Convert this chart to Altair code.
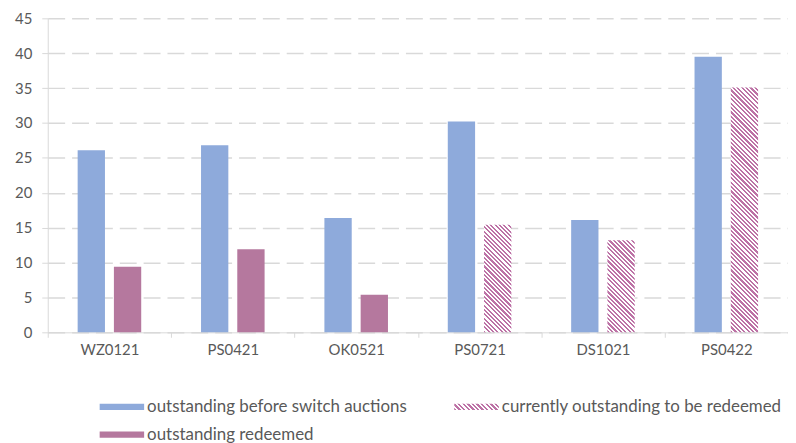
import json
import altair as alt
import pandas as pd

# ---------------- data ----------------
categories = ["WZ0121", "PS0421", "OK0521", "PS0721", "DS1021", "PS0422"]
before_values = [26.1, 26.8, 16.4, 30.2, 16.1, 39.5]
second_values = [9.4, 11.9, 5.4, 15.4, 13.2, 35.1]
second_series = ["outstanding redeemed"] * 3 + ["currently outstanding to be redeemed"] * 3
series_names = [
    "outstanding before switch auctions",
    "currently outstanding to be redeemed",
    "outstanding redeemed",
]
y_ticks = [0, 5, 10, 15, 20, 25, 30, 35, 40, 45]

# ---------------- style ----------------
BLUE = "#8eaadb"
PURPLE = "#b5789e"
HATCH = "#bd72a6"
GRID = "#d9d9d9"
TEXT = "#595959"
FONT = "Lato"

W, H = 745, 316
PAD = {"left": 40, "top": 9, "right": 0, "bottom": 110}
Y_MAX = 45
PI, PO = 0.2466, 0.825

band = W / len(categories)
step = band / (2 - PI + 2 * PO)
bar_w = step * (1 - PI)


def hatch(w, h, period=4.4, color=HATCH):
    r = h / w
    s = (1 + r) / (1 + r * r)
    n = max(1, round((w + h) / period))
    stops = []
    for k in range(n):
        a, m, b = k / n, (k + 0.5) / n, (k + 1) / n
        stops += [
            {"offset": a, "color": color},
            {"offset": m, "color": color},
            {"offset": m, "color": "#ffffff"},
            {"offset": b, "color": "#ffffff"},
        ]
    return {"gradient": "linear", "x1": 0, "y1": 1, "x2": s, "y2": 1 - s * r, "stops": stops}


SYM_W = 45.0
SYM_HALF = 0.14
legend_grad = hatch(SYM_W, SYM_W * SYM_HALF, period=4.6)

rows = []
for c, bv, sv, ss in zip(categories, before_values, second_values, second_series):
    rows.append({"cat": c, "slot": 0, "series": series_names[0], "value": bv})
    rows.append({"cat": c, "slot": 1, "series": ss, "value": sv})
df = pd.DataFrame(rows)

x_enc = alt.X(
    "cat:N",
    sort=categories,
    scale=alt.Scale(paddingInner=0, paddingOuter=0),
    axis=alt.Axis(
        title=None, labelAngle=0, tickBand="extent", grid=False,
        domainColor=GRID, tickColor=GRID, tickSize=5,
        labelColor=TEXT, labelFont=FONT, labelFontSize=15, labelPadding=5,
    ),
)
xoff_enc = alt.XOffset("slot:N", scale=alt.Scale(paddingInner=PI, paddingOuter=PO))
y_enc = alt.Y(
    "value:Q",
    scale=alt.Scale(domain=[0, Y_MAX], nice=False, zero=True),
    axis=alt.Axis(
        title=None, values=y_ticks, grid=True, gridColor=GRID, gridDash=[17, 7],
        gridWidth=1.5,
        domainColor=GRID, tickColor=GRID, tickSize=6,
        labelColor=TEXT, labelFont=FONT, labelFontSize=15, labelPadding=10,
    ),
)

base = alt.Chart(df)

solid = base.transform_filter(
    alt.datum.series != series_names[1]
).mark_bar().encode(
    x=x_enc,
    xOffset=xoff_enc,
    y=y_enc,
    color=alt.Color(
        "series:N",
        scale=alt.Scale(
            domain=series_names,
            range=[BLUE, alt.ExprRef(expr=json.dumps(legend_grad)), PURPLE],
        ),
        legend=alt.Legend(
            title=None, orient="none", legendX=52, legendY=381, columns=2,
            direction="horizontal",
            symbolType="M-1,-%gH1V%gH-1Z" % (SYM_HALF, SYM_HALF),
            symbolSize=SYM_W * SYM_W, symbolStrokeWidth=0,
            labelFont=FONT, labelFontSize=17, labelColor=TEXT, labelOffset=3,
            labelLimit=0, columnPadding=47, rowPadding=8, padding=0,
            clipHeight=20,
        ),
    ),
)

layers = [solid]
for c, sv, ss in zip(categories, second_values, second_series):
    if ss != series_names[1]:
        continue
    h = sv * H / Y_MAX
    layer = base.transform_filter(
        (alt.datum.cat == c) & (alt.datum.slot == 1)
    ).mark_bar(fill=hatch(bar_w, h)).encode(
        x=x_enc,
        xOffset=xoff_enc,
        y=y_enc,
    )
    layers.append(layer)

chart = alt.layer(*layers).properties(
    width=W, height=H,
    autosize=alt.AutoSizeParams(type="none"),
    padding=PAD,
    background="white",
).configure_view(stroke=None)

chart.save("out.html", embed_options={"renderer": "svg", "actions": False})
